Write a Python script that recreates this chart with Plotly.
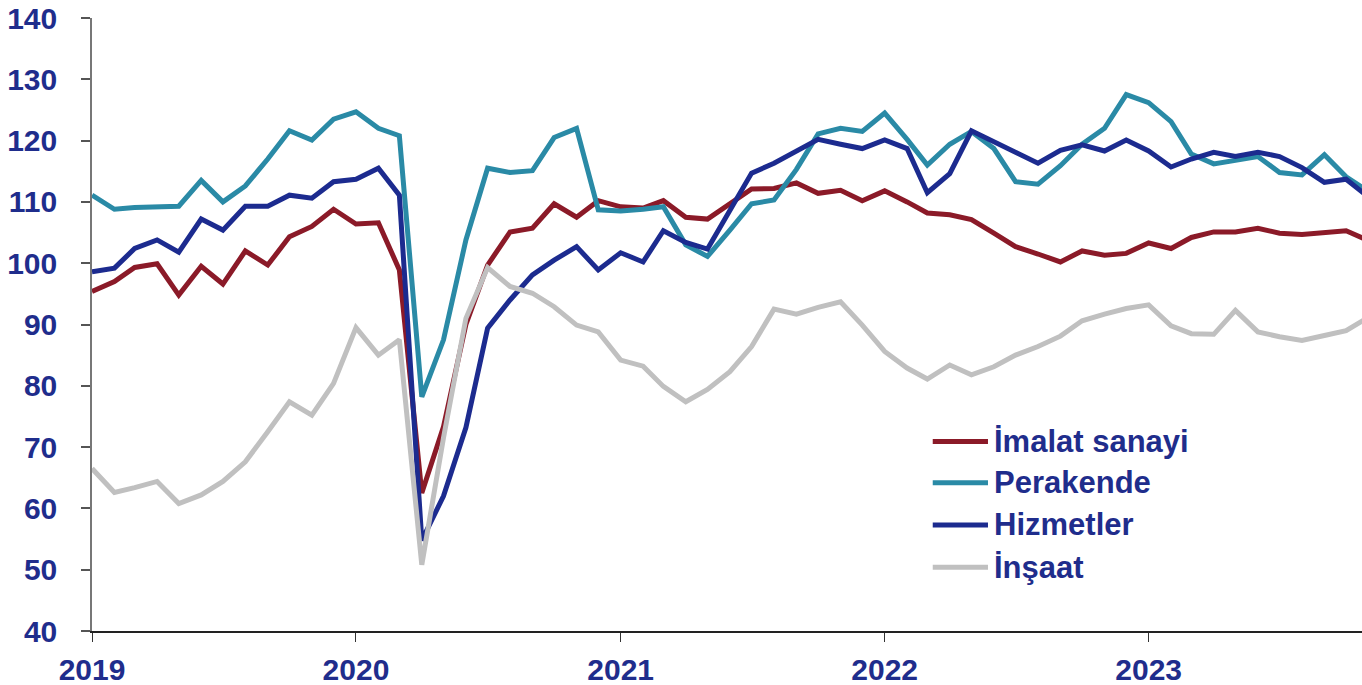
import pandas as pd
import plotly.graph_objects as go

# monthly index, Jan 2019 .. Nov 2023 (last point runs past the right edge)
months = pd.date_range("2019-01-01", periods=59, freq="MS")

imalat = [95.4, 97.0, 99.3, 99.9, 94.8, 99.5, 96.6, 102.0, 99.7, 104.3, 106.0, 108.8,
          106.4, 106.6, 98.9, 62.5, 73.3, 90.0, 99.7, 105.1, 105.7, 109.7, 107.5, 110.2,
          109.2, 109.0, 110.2, 107.5, 107.2, 109.7, 112.1, 112.2, 113.1, 111.4, 111.9, 110.2,
          111.8, 110.0, 108.2, 107.9, 107.1, 104.9, 102.7, 101.5, 100.2, 102.0, 101.3, 101.6,
          103.3, 102.4, 104.2, 105.1, 105.1, 105.7, 104.9, 104.7, 105.1, 105.3, 103.7]
perakende = [111.1, 108.8, 109.1, 109.3, 109.3, 113.5, 110.0, 112.6, 117.0, 121.6, 120.1, 123.5,
             124.7, 122.0, 120.8, 78.2, 87.5, 103.8, 115.5, 114.8, 115.1, 120.5, 122.0, 108.7,
             108.5, 108.8, 109.2, 103.0, 101.1, 105.4, 109.7, 110.3, 115.3, 121.1, 122.0, 121.5,
             124.5, 120.2, 116.0, 119.4, 121.5, 118.7, 113.3, 112.9, 115.9, 119.4, 122.0, 127.5,
             126.2, 123.1, 117.8, 116.2, 116.7, 117.4, 114.8, 114.4, 117.7, 114.1, 111.7]
hizmetler = [98.6, 99.2, 102.4, 103.8, 101.8, 107.2, 105.4, 109.3, 109.3, 111.1, 110.6, 113.3,
             113.7, 115.5, 111.1, 54.8, 62.0, 73.2, 89.4, 94.0, 98.1, 100.5, 102.7, 98.9,
             101.7, 100.2, 105.3, 103.4, 102.3, 108.7, 114.7, 116.3, 118.2, 120.2, 119.4, 118.7,
             120.1, 118.7, 111.5, 114.6, 121.6, 119.8, 118.0, 116.3, 118.4, 119.3, 118.3, 120.1,
             118.3, 115.7, 117.0, 118.1, 117.4, 118.1, 117.4, 115.6, 113.2, 113.7, 110.8]
insaat = [66.5, 62.6, 63.4, 64.4, 60.8, 62.2, 64.4, 67.6, 72.5, 77.4, 75.2, 80.4,
          89.5, 85.0, 87.5, 50.8, 71.5, 91.0, 99.3, 96.2, 95.1, 92.9, 89.9, 88.8,
          84.2, 83.2, 79.9, 77.4, 79.4, 82.3, 86.4, 92.5, 91.7, 92.8, 93.7, 89.9,
          85.6, 82.9, 81.1, 83.4, 81.8, 83.1, 85.0, 86.4, 88.1, 90.6, 91.7, 92.6,
          93.2, 89.8, 88.5, 88.4, 92.3, 88.8, 88.0, 87.4, 88.2, 89.0, 91.2]

names = ["İmalat sanayi", "Perakende", "Hizmetler", "İnşaat"]
colors = ["#8b1a28", "#2a8aa6", "#1c2b8f", "#c0c0c0"]
year_ticks = ["2019-01-01", "2020-01-01", "2021-01-01", "2022-01-01", "2023-01-01"]
year_labels = ["2019", "2020", "2021", "2022", "2023"]

text_color = "#1f2d8c"
font = dict(family="Liberation Sans, Arial, sans-serif", size=30, color=text_color, weight="bold")
legend_font = dict(font, size=31)

fig = go.Figure()
for name, vals, col in zip(names, [imalat, perakende, hizmetler, insaat], colors):
    fig.add_trace(go.Scatter(x=months, y=vals, name=name, mode="lines",
                             line=dict(color=col, width=5), showlegend=False))

# hand-made legend (longer line samples than plotly's own)
leg_rows = [0.309, 0.242, 0.173, 0.104]
for name, col, yy in zip(names, colors, leg_rows):
    fig.add_shape(type="line", xref="paper", yref="paper", x0=0.662, x1=0.7055, y0=yy, y1=yy,
                  line=dict(color=col, width=5))
    fig.add_annotation(xref="paper", yref="paper", x=0.7087, y=yy, text=name, showarrow=False,
                       xanchor="left", yanchor="middle", font=legend_font)

fig.update_layout(
    width=1362, height=685,
    margin=dict(l=92, r=0, t=18, b=54),
    plot_bgcolor="white", paper_bgcolor="white",
    xaxis=dict(range=["2019-01-01", "2023-10-23"], tickmode="array",
               tickvals=year_ticks, ticktext=year_labels,
               ticks="outside", ticklen=9, tickcolor="#333", tickwidth=1,
               ticklabelstandoff=2, ticklabeloverflow="allow",
               showline=True, linecolor="#222", linewidth=1.5,
               showgrid=False, zeroline=False, tickfont=font),
    yaxis=dict(range=[40, 140], dtick=10, ticks="outside", ticklen=9,
               tickcolor="#555", tickwidth=1.5, ticklabelstandoff=18,
               ticklabeloverflow="allow",
               showline=True, linecolor="#777", linewidth=1.5,
               showgrid=False, zeroline=False, tickfont=font),
)

# drop the default 8px body margin so the figure fills the window exactly
fig.write_html("out.html", config={"displayModeBar": False},
               post_script="document.body.style.margin='0';")
